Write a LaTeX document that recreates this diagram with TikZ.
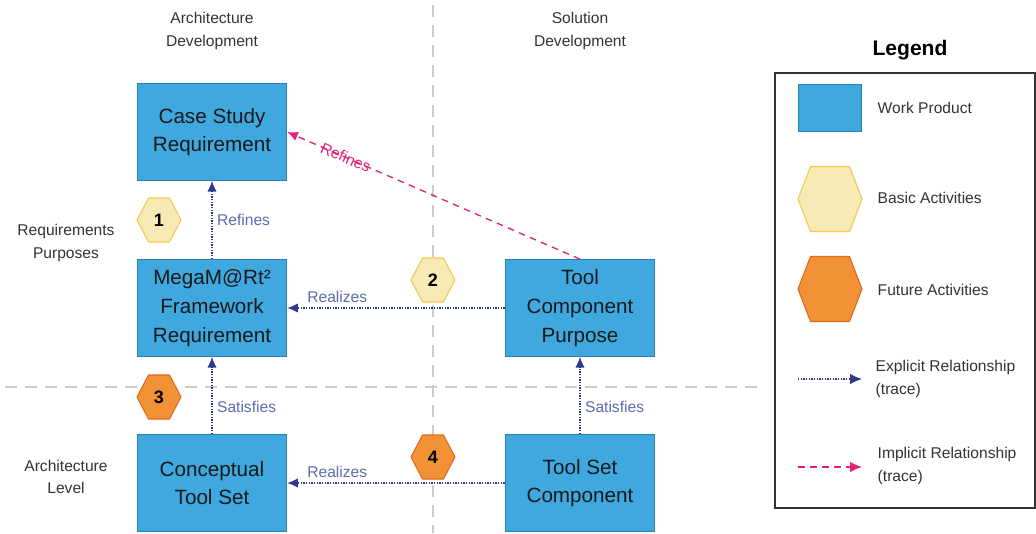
\documentclass[tikz,border=0pt]{standalone}
\usepackage{fontspec}
\setmainfont{Liberation Sans}
\usetikzlibrary{arrows.meta}
\definecolor{wpfill}{HTML}{3FA9DF}
\definecolor{wpdraw}{HTML}{2B7FB9}
\definecolor{basicfill}{HTML}{F8EAB4}
\definecolor{basicdraw}{HTML}{F6C84E}
\definecolor{futurefill}{HTML}{F09235}
\definecolor{futuredraw}{HTML}{E0681A}
\definecolor{tracecol}{HTML}{2E3A90}
\definecolor{tracetxt}{HTML}{5C6BAF}
\definecolor{implcol}{HTML}{E3207A}
\definecolor{gridcol}{HTML}{CCCCCC}
\definecolor{labelcol}{HTML}{333333}
% hexagon: style, centre, half width, half height, chamfer
\newcommand{\hexshape}[5]{\draw[#1] (#2) ++(-#3,0) -- ++(#5,-#4) -- ++({2*#3-2*#5},0)
   -- ++(#5,#4) -- ++(-#5,#4) -- ++({2*#5-2*#3},0) -- cycle;}
\begin{document}
\begin{tikzpicture}[x=0.75pt,y=-0.75pt,
   workprod/.style={draw=wpdraw,fill=wpfill,line width=0.8pt,minimum width=112pt,
     minimum height=72.5pt,align=center,font=\fontsize{15.5}{21.5}\selectfont,text=black!90},
   basic/.style={draw=basicdraw,fill=basicfill,line width=0.8pt,line join=round},
   future/.style={draw=futuredraw,fill=futurefill,line width=0.8pt,line join=round},
   hexnum/.style={inner sep=0pt,font=\fontsize{13.5}{13.5}\selectfont\bfseries},
   headlbl/.style={align=center,text=labelcol,font=\fontsize{11.7}{17}\selectfont},
   tracelbl/.style={text=tracetxt,font=\fontsize{11.7}{14}\selectfont},
   explicit/.style={tracecol,densely dotted,line width=1pt,-{Latex[length=8pt,width=7pt]}},
   implicit/.style={implcol,dash pattern=on 5pt off 4pt,line width=1pt,-{Latex[length=8pt,width=7pt]}}]
   \useasboundingbox (0,0) rectangle (1036,533);

   % grid
   \draw[gridcol,dash pattern=on 9pt off 6pt,line width=0.8pt](433,5)--(433,533);
   \draw[gridcol,dash pattern=on 9pt off 6pt,line width=0.8pt](5,387)--(765,387);

   \node[headlbl] (archdev) at (212,31) {Architecture\\Development};
   \node[headlbl] (soldev) at (580,31) {Solution\\Development};
   \node[headlbl] (reqpur) at (66,243) {Requirements\\Purposes};
   \node[headlbl] (archlvl) at (66,477) {Architecture\\Level};

   \node[workprod] (csr) at (212,132) {Case Study\\Requirement};
   \node[workprod] (mfr) at (212,308) {MegaM@Rt²\\Framework\\Requirement};
   \node[workprod] (cts) at (212,483) {Conceptual\\Tool Set};
   \node[workprod] (tcp) at (580,308) {Tool\\Component\\Purpose};
   \node[workprod] (tsc) at (580,483) {Tool Set\\Component};

   \hexshape{basic}{159,220}{22}{22}{11.5}
   \hexshape{basic}{433,280}{22}{22}{11.5}
   \hexshape{future}{159,397}{22}{22}{11.5}
   \hexshape{future}{433,457}{22}{22}{11.5}
   \node[hexnum] (act1) at (159,220) {1};
   \node[hexnum] (act2) at (433,280) {2};
   \node[hexnum] (act3) at (159,397) {3};
   \node[hexnum] (act4) at (433,457) {4};

   \draw[explicit](mfr.north)--(csr.south)node[midway,right,tracelbl]{Refines};
   \draw[explicit](tcp.west)--(mfr.east)node[pos=0.77,above,tracelbl]{Realizes};
   \draw[explicit](cts.north)--(mfr.south)node[pos=0.35,right,tracelbl]{Satisfies};
   \draw[explicit](tsc.north)--(tcp.south)node[pos=0.35,right,tracelbl]{Satisfies};
   \draw[explicit](tsc.west)--(cts.east)node[pos=0.77,above,tracelbl]{Realizes};
   \draw[implicit](tcp.north)--(csr.east)
     node[pos=0.8,sloped,text=implcol,font=\fontsize{11.7}{14}\selectfont]{Refines};

   % legend
   \node[font=\fontsize{15.8}{18}\selectfont\bfseries] (legtitle) at (910,50) {Legend};
   \draw[black!80,line width=0.8pt](775,73) rectangle (1035,508);
   \node[workprod,minimum width=47pt,minimum height=35pt] (lwp) at (830,108) {};
   \hexshape{basic}{830,199}{32}{32.5}{12.5}
   \hexshape{future}{830,289}{32}{32.5}{12.5}
   \coordinate (lexa) at (798,379);
   \coordinate (lexb) at (862,379);
   \coordinate (lima) at (798,467);
   \coordinate (limb) at (862,467);
   \draw[explicit,-{Latex[length=9pt,width=8pt]}](lexa)--(lexb);
   \draw[implicit,-{Latex[length=9pt,width=8pt]}](lima)--(limb);
   \node[headlbl,anchor=west,align=left] (twp) at (873,108) {Work Product};
   \node[headlbl,anchor=west,align=left] (tbasic) at (873,198) {Basic Activities};
   \node[headlbl,anchor=west,align=left] (tfuture) at (873,290) {Future Activities};
   \node[headlbl,anchor=west,align=left] (texpl) at (871,379) {Explicit Relationship\\(trace)};
   \node[headlbl,anchor=west,align=left] (timpl) at (873,466) {Implicit Relationship\\(trace)};
\end{tikzpicture}
\end{document}
